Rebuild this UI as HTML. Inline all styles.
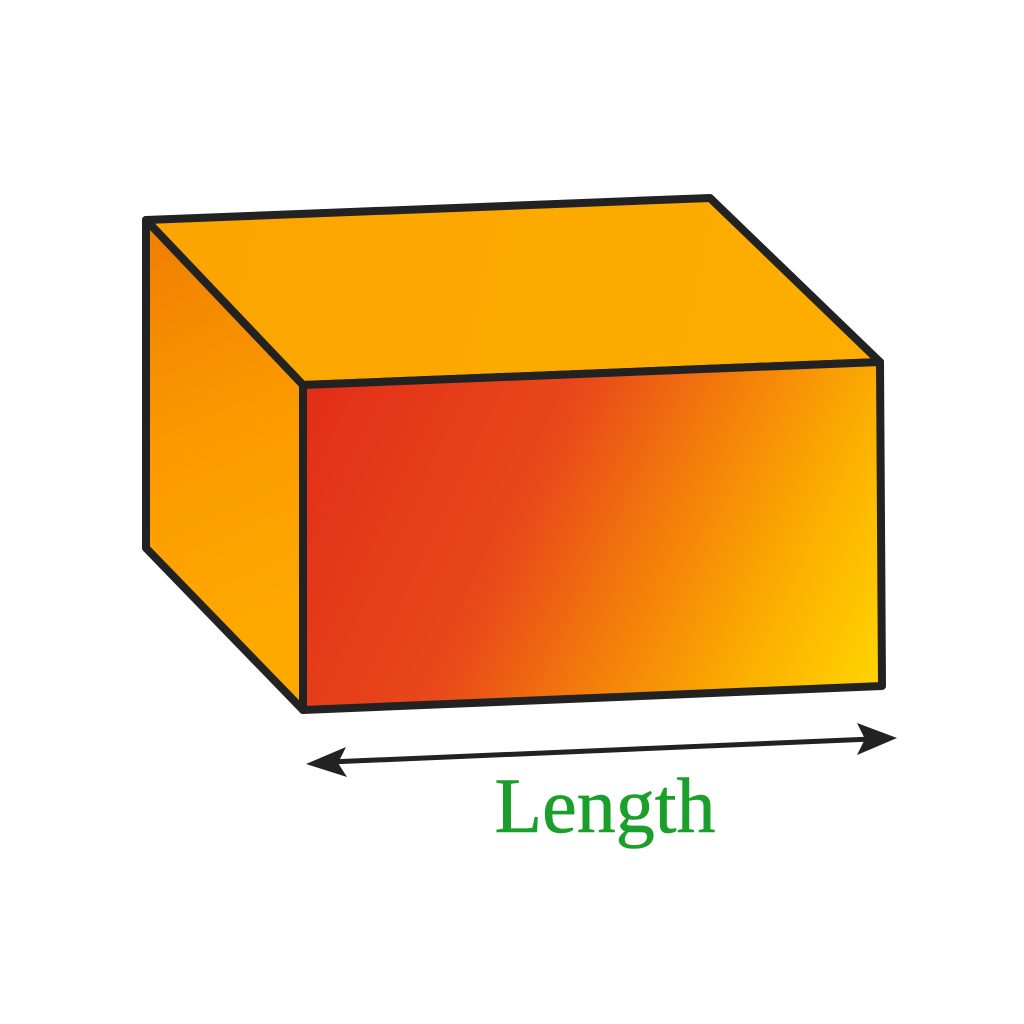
<!DOCTYPE html>
<html>
<head>
<meta charset="utf-8">
<style>
  html,body{margin:0;padding:0;background:#fff;}
  svg{display:block;}
</style>
</head>
<body>
<svg width="1024" height="1024" viewBox="0 0 1024 1024" xmlns="http://www.w3.org/2000/svg">
  <defs>
    <linearGradient id="frontGrad" x1="290" y1="420" x2="880" y2="700" gradientUnits="userSpaceOnUse">
      <stop offset="0" stop-color="#E22E18"/>
      <stop offset="0.38" stop-color="#E8481A"/>
      <stop offset="0.6" stop-color="#F4800A"/>
      <stop offset="0.8" stop-color="#FCB000"/>
      <stop offset="1" stop-color="#FFD600"/>
    </linearGradient>
    <linearGradient id="leftGrad" x1="150" y1="260" x2="300" y2="600" gradientUnits="userSpaceOnUse">
      <stop offset="0" stop-color="#F08200"/>
      <stop offset="0.5" stop-color="#FB9A00"/>
      <stop offset="1" stop-color="#FFA800"/>
    </linearGradient>
    <linearGradient id="topGrad" x1="150" y1="220" x2="880" y2="380" gradientUnits="userSpaceOnUse">
      <stop offset="0" stop-color="#FCA400"/>
      <stop offset="1" stop-color="#FDAE00"/>
    </linearGradient>
  </defs>

  <polygon points="146,220 710,198 880,362 303,385" fill="url(#topGrad)" stroke="#222" stroke-width="8" stroke-linejoin="round"/>
  <polygon points="146,220 303,385 303,710 146,548" fill="url(#leftGrad)" stroke="#222" stroke-width="8" stroke-linejoin="round"/>
  <polygon points="303,385 880,362 882,686 303,710" fill="url(#frontGrad)" stroke="#222" stroke-width="8" stroke-linejoin="round"/>

  <g>
    <line x1="330" y1="762" x2="872" y2="739" stroke="#222" stroke-width="5"/>
    <polygon points="306,764 346,747 338,763 347,777" fill="#222"/>
    <polygon points="897,738 857,723 865,739 857,755" fill="#222"/>
  </g>

  <text x="605" y="832" text-anchor="middle" font-family="'Liberation Serif', serif" font-size="78" fill="#1AA02A" stroke="#1AA02A" stroke-width="0.6">Length</text>
</svg>
</body>
</html>
